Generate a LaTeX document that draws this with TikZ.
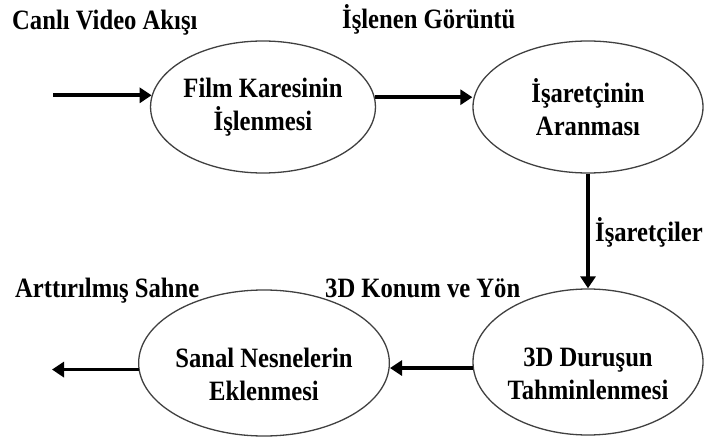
\documentclass[tikz,border=0pt]{standalone}
\usepackage{fontspec}
\setmainfont[FakeStretch=0.88]{Liberation Serif}
\usetikzlibrary{arrows.meta,shapes.geometric}
\newcommand{\lowstrut}{\rule{0pt}{42pt}}
\tikzset{
  proc/.style={ellipse, draw=black!75, line width=1.3pt, inner sep=0pt,
    align=center, font=\fontsize{28}{33}\selectfont\bfseries},
  lbl/.style={anchor=base west, inner sep=0pt, font=\fontsize{28}{33}\selectfont\bfseries},
  flow/.style={line width=3.8pt, -{Triangle[length=12pt,width=15pt]}}
}
\begin{document}
\begin{tikzpicture}[x=1pt,y=-1pt]
\useasboundingbox (0,0) rectangle (709,446);
\node[proc, minimum width=222pt, minimum height=132pt] (e1) at (263,107) {Film Karesinin\\İşlenmesi};
\node[proc, minimum width=230pt, minimum height=132pt] (e2) at (588,107) {İşaretçinin\\Aranması};
\node[proc, minimum width=224pt, minimum height=146pt] (e3) at (264,363) {\lowstrut Sanal Nesnelerin\\Eklenmesi};
\node[proc, minimum width=230pt, minimum height=146pt] (e4) at (588,362) {\lowstrut 3D Duruşun\\Tahminlenmesi};
\coordinate (in) at (53,96);
\coordinate (out) at (52,368);
\node[lbl] (l1) at (12,30) {Canlı Video Akışı};
\node[lbl] (l2) at (342,29) {İşlenen Görüntü};
\node[lbl] (l3) at (595,242) {İşaretçiler};
\node[lbl] (l4) at (15,298) {Arttırılmış Sahne};
\node[lbl] (l5) at (325,298) {3D Konum ve Yön};
\draw[flow] (e1.174.3 -| in) -- (e1.174.3);
\draw[flow] (e1.5.7) -- (e1.5.7 -| e2.west);
\draw[flow] (e2.south) -- (e4.north);
\draw[flow] (e4.183) -- (e4.183 -| e3.east);
\draw[flow] (e3.183) -- (e3.183 -| out);
\end{tikzpicture}
\end{document}
